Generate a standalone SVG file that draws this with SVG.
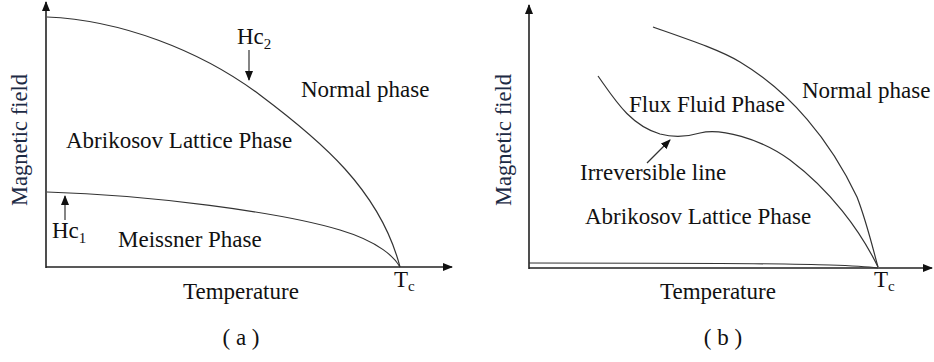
<svg xmlns="http://www.w3.org/2000/svg" width="934" height="362" viewBox="0 0 934 362">
<style>
text{font-family:"Liberation Serif","Times New Roman",serif;font-size:23px;fill:#111}
.ax{stroke:#222;stroke-width:1.6;fill:none}
.cv{stroke:#333;stroke-width:1.2;fill:none}
.sub{font-size:15px}
.mf{fill:#1c2a44;font-size:22.5px}
</style>
<defs>
<marker id="ah" markerWidth="10" markerHeight="8" refX="9" refY="4" orient="auto" markerUnits="userSpaceOnUse">
<path d="M0,0 L10,4 L0,8 Z" fill="#111"/>
</marker>
<marker id="sh" markerWidth="10" markerHeight="8" refX="9" refY="4" orient="auto" markerUnits="userSpaceOnUse">
<path d="M0,0 L10,4 L0,8 Z" fill="#111"/>
</marker>
</defs>
<rect width="934" height="362" fill="#fff"/>

<g id="connectors">
<line class="ax" x1="46" y1="268" x2="46" y2="2" marker-end="url(#ah)"/>
<line class="ax" x1="46" y1="267" x2="452" y2="267" marker-end="url(#ah)"/>
<path class="cv" d="M47,17 C120,20 200,50 260,95 C320,140 380,190 400,267"/>
<path class="cv" d="M47,192 C150,195 280,212 340,230 C380,242 395,258 400,267"/>
<line class="cv" x1="249" y1="50" x2="249" y2="80" stroke-width="1.4" marker-end="url(#sh)"/>
<line class="cv" x1="65" y1="220" x2="65" y2="196" stroke-width="1.4" marker-end="url(#sh)"/>
<line class="ax" x1="529" y1="269" x2="529" y2="5" marker-end="url(#ah)"/>
<line class="ax" x1="529" y1="268" x2="932" y2="268" marker-end="url(#ah)"/>
<path class="cv" d="M653,27 C690,40 720,50 740,62 C790,92 830,140 857,197 C866,220 872,245 878,267"/>
<path class="cv" d="M598,76 C615,100 630,125 660,134 C675,138 690,136 700,133 C720,128 760,138 790,160 C830,190 860,230 878,267"/>
<path class="cv" d="M529,263 C650,263 780,263 830,265 C860,266 870,267 878,268" stroke-width="1.8"/>
<line class="cv" x1="647" y1="163" x2="670" y2="140" stroke-width="1.4" marker-end="url(#sh)"/>
</g>

<g id="panel-a">
<text class="mf" transform="translate(27,140) rotate(-90)" text-anchor="middle">Magnetic field</text>
<text x="237" y="44">Hc<tspan class="sub" dy="5">2</tspan></text>
<text x="52" y="238">Hc<tspan class="sub" dy="5">1</tspan></text>
<text x="301" y="97">Normal phase</text>
<text x="66" y="148">Abrikosov Lattice Phase</text>
<text x="118" y="247">Meissner Phase</text>
<text x="183" y="299">Temperature</text>
<text x="394" y="287">T<tspan class="sub" dy="4">c</tspan></text>
<text x="241" y="345" text-anchor="middle">( a )</text>
</g>

<g id="panel-b">
<text class="mf" transform="translate(511,140) rotate(-90)" text-anchor="middle">Magnetic field</text>
<text x="629" y="112">Flux Fluid Phase</text>
<text x="802" y="98">Normal phase</text>
<text x="580" y="180">Irreversible line</text>
<text x="585" y="224">Abrikosov Lattice Phase</text>
<text x="660" y="299">Temperature</text>
<text x="874" y="287">T<tspan class="sub" dy="4">c</tspan></text>
<text x="723" y="345" text-anchor="middle">( b )</text>
</g>
</svg>
